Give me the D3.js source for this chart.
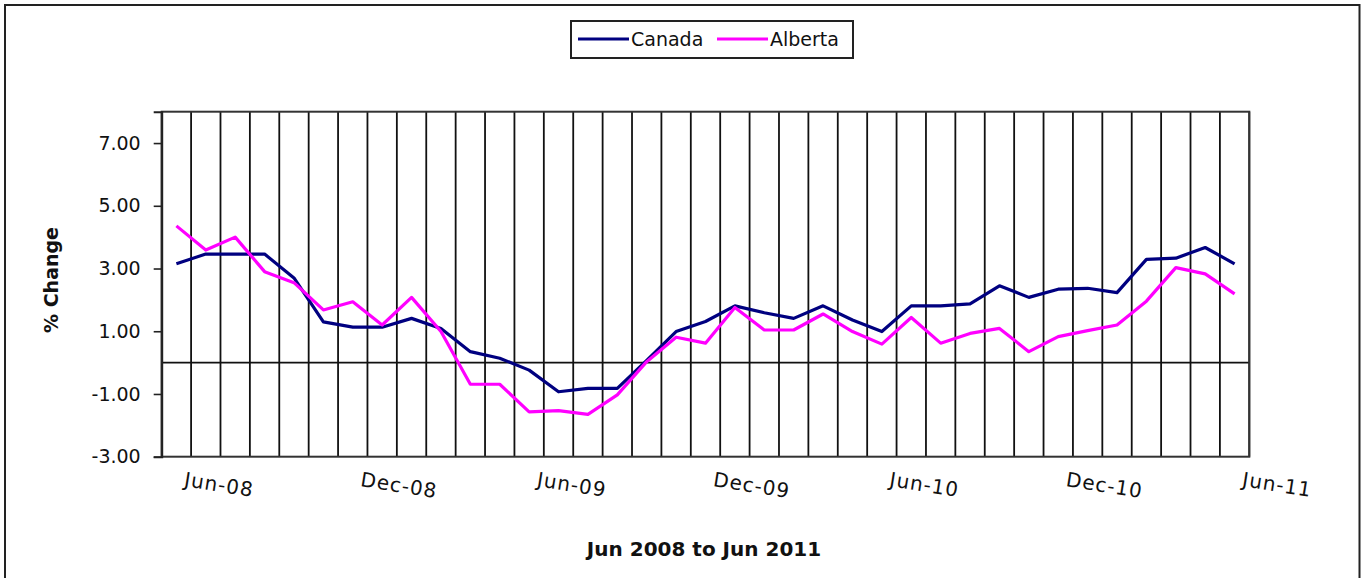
<!DOCTYPE html>
<html>
<head>
<meta charset="utf-8">
<script src="https://cdn.jsdelivr.net/npm/d3@7"></script>
<style>
  body { margin: 0; background: #fff; }
  svg { display: block; }
  text { font-family: "DejaVu Sans", Verdana, sans-serif; fill: #111; }
</style>
</head>
<body>
<div id="display"><svg width="1361" height="578"></svg></div>
<script>
// monthly % change, Jun 2008 .. Jun 2011
var months = ["Jun-08","Jul-08","Aug-08","Sep-08","Oct-08","Nov-08","Dec-08",
  "Jan-09","Feb-09","Mar-09","Apr-09","May-09","Jun-09","Jul-09","Aug-09","Sep-09",
  "Oct-09","Nov-09","Dec-09","Jan-10","Feb-10","Mar-10","Apr-10","May-10","Jun-10",
  "Jul-10","Aug-10","Sep-10","Oct-10","Nov-10","Dec-10","Jan-11","Feb-11","Mar-11",
  "Apr-11","May-11","Jun-11"];
var canada = [3.15,3.46,3.46,3.46,2.70,1.30,1.13,1.13,1.41,1.09,0.35,0.14,-0.24,
  -0.93,-0.82,-0.82,0.07,0.99,1.31,1.81,1.59,1.41,1.81,1.36,0.99,1.81,1.81,1.87,
  2.45,2.08,2.34,2.37,2.23,3.29,3.33,3.67,3.15];
var alberta = [4.36,3.59,4.00,2.90,2.55,1.68,1.94,1.20,2.08,0.99,-0.69,-0.69,-1.57,
  -1.53,-1.65,-1.03,0.03,0.81,0.62,1.76,1.04,1.04,1.55,0.99,0.59,1.44,0.62,0.93,
  1.09,0.35,0.83,1.02,1.20,1.96,3.03,2.83,2.19];
var yTicks = [-3,-1,1,3,5,7];
var xLabels = ["Jun-08","Dec-08","Jun-09","Dec-09","Jun-10","Dec-10","Jun-11"];
var seriesNames = ["Canada","Alberta"];
var seriesColors = ["#000080","#ff00ff"];

function draw() {
  var svg = d3.select("#display svg");
  var pLeft = 161.7, pTop = 111.7, pRight = 1249.3, pBottom = 456.7;

  // outer chart frame
  svg.append("path").attr("d","M5,600V5H1359.5V600")
    .attr("fill","none").attr("stroke","#222").attr("stroke-width",2);

  var x = d3.scaleBand().domain(months).range([pLeft, pRight]).padding(0);
  var y = d3.scaleLinear().domain([-3, 8]).range([pBottom, pTop]);

  // vertical gridlines at category boundaries
  var bounds = months.map(function(m) { return x(m); }).concat([pRight]);
  svg.append("g").selectAll("line").data(bounds).join("line")
    .attr("x1", function(d) { return d; }).attr("x2", function(d) { return d; })
    .attr("y1", pTop).attr("y2", pBottom)
    .attr("stroke","#111").attr("stroke-width",1.8);

  // zero line
  svg.append("line").attr("x1", pLeft).attr("x2", pRight)
    .attr("y1", y(0)).attr("y2", y(0))
    .attr("stroke","#111").attr("stroke-width",1.6);

  // plot frame
  svg.append("rect").attr("x", pLeft).attr("y", pTop)
    .attr("width", pRight - pLeft).attr("height", pBottom - pTop)
    .attr("fill","none").attr("stroke","#333").attr("stroke-width",2);

  // y axis
  var yAxis = svg.append("g").attr("transform","translate(" + pLeft + ",0)")
    .call(d3.axisLeft(y).tickValues(yTicks)
      .tickFormat(function(d) { return d.toFixed(2); })
      .tickSize(8).tickPadding(13));
  yAxis.select(".domain").attr("stroke","#222").attr("stroke-width",2);
  yAxis.selectAll(".tick line").attr("stroke","#222").attr("stroke-width",1.6);
  yAxis.selectAll(".tick text").attr("font-size","19px")
    .attr("font-family","DejaVu Sans, Verdana, sans-serif").attr("fill","#222");

  // x labels, slightly rotated like the original
  svg.append("g").selectAll("text").data(xLabels).join("text")
    .attr("transform", function(d) {
      return "translate(" + (x(d) + x.bandwidth() / 2 + 7) + ",486) rotate(9)";
    })
    .attr("font-size","20px").attr("letter-spacing","1px").attr("fill","#222")
    .text(function(d) { return d; });

  // lines
  var line = d3.line()
    .x(function(d, i) { return x(months[i]) + x.bandwidth() / 2; })
    .y(function(d) { return y(d); });
  [canada, alberta].forEach(function(s, k) {
    svg.append("path").datum(s).attr("d", line)
      .attr("fill","none").attr("stroke", seriesColors[k])
      .attr("stroke-width",3.2).attr("stroke-linejoin","round");
  });

  // axis titles
  svg.append("text").text("% Change")
    .attr("transform","translate(58,280) rotate(-90)")
    .attr("text-anchor","middle").attr("font-size","19px").attr("font-weight","bold");
  svg.append("text").text("Jun 2008 to Jun 2011")
    .attr("x", 704).attr("y", 556)
    .attr("text-anchor","middle").attr("font-size","20px").attr("font-weight","bold");

  // legend
  svg.append("rect").attr("x",571).attr("y",21).attr("width",282).attr("height",37)
    .attr("fill","#fff").attr("stroke","#222").attr("stroke-width",2);
  var legX = [578, 717];
  seriesNames.forEach(function(n, k) {
    svg.append("line").attr("x1", legX[k]).attr("x2", legX[k] + 51)
      .attr("y1", 39).attr("y2", 39)
      .attr("stroke", seriesColors[k]).attr("stroke-width", 3.2);
    svg.append("text").text(n).attr("x", legX[k] + 53).attr("y", 46)
      .attr("font-size","19px").attr("fill","#222");
  });
}
draw();
</script>
</body>
</html>
